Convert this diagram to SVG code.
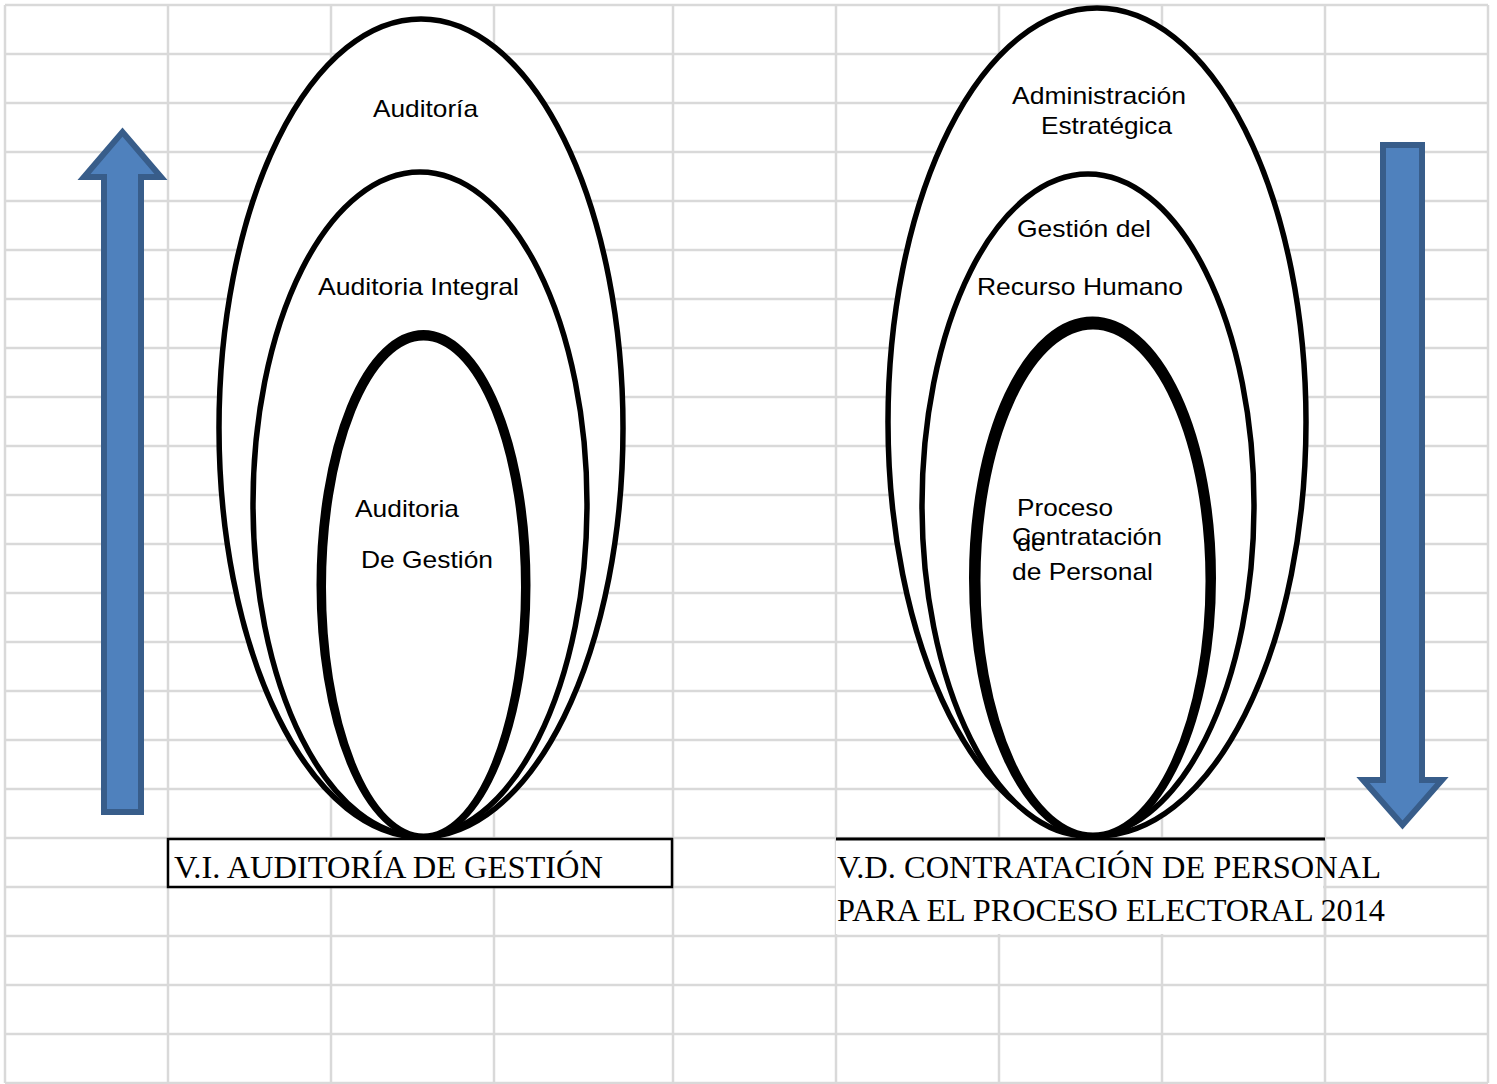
<svg xmlns="http://www.w3.org/2000/svg" width="1497" height="1084" viewBox="0 0 1497 1084">
<style>
.grid line{stroke:#d9d9d9;stroke-width:2.5}
.ell{fill:#fff;stroke:#000;stroke-width:5.5}
.thick{stroke-width:8}
.t{font-family:"Liberation Sans",Arial,sans-serif;font-size:24px;fill:#000}
.s{font-family:"Liberation Serif","Times New Roman",serif;font-size:32px;fill:#000}
.arrow{fill:#4f81bd;stroke:#385d8a;stroke-width:6;stroke-linejoin:miter}
</style>
<rect width="1497" height="1084" fill="#fff"/>
<g class="grid" id="grid">
<line x1="5" y1="5" x2="1488" y2="5"/>
<line x1="5" y1="54" x2="1488" y2="54"/>
<line x1="5" y1="103" x2="1488" y2="103"/>
<line x1="5" y1="152" x2="1488" y2="152"/>
<line x1="5" y1="201" x2="1488" y2="201"/>
<line x1="5" y1="250" x2="1488" y2="250"/>
<line x1="5" y1="299" x2="1488" y2="299"/>
<line x1="5" y1="348" x2="1488" y2="348"/>
<line x1="5" y1="397" x2="1488" y2="397"/>
<line x1="5" y1="446" x2="1488" y2="446"/>
<line x1="5" y1="495" x2="1488" y2="495"/>
<line x1="5" y1="544" x2="1488" y2="544"/>
<line x1="5" y1="593" x2="1488" y2="593"/>
<line x1="5" y1="642" x2="1488" y2="642"/>
<line x1="5" y1="691" x2="1488" y2="691"/>
<line x1="5" y1="740" x2="1488" y2="740"/>
<line x1="5" y1="789" x2="1488" y2="789"/>
<line x1="5" y1="838" x2="1488" y2="838"/>
<line x1="5" y1="887" x2="1488" y2="887"/>
<line x1="5" y1="936" x2="1488" y2="936"/>
<line x1="5" y1="985" x2="1488" y2="985"/>
<line x1="5" y1="1034" x2="1488" y2="1034"/>
<line x1="5" y1="1083" x2="1488" y2="1083"/>
<line x1="5" y1="5" x2="5" y2="1083"/>
<line x1="168" y1="5" x2="168" y2="1083"/>
<line x1="331" y1="5" x2="331" y2="1083"/>
<line x1="494" y1="5" x2="494" y2="1083"/>
<line x1="673" y1="5" x2="673" y2="1083"/>
<line x1="836" y1="5" x2="836" y2="1083"/>
<line x1="999" y1="5" x2="999" y2="1083"/>
<line x1="1162" y1="5" x2="1162" y2="1083"/>
<line x1="1325" y1="5" x2="1325" y2="1083"/>
<line x1="1488" y1="5" x2="1488" y2="1083"/>
</g>

<g id="left-outer">
<ellipse class="ell" cx="421" cy="428" rx="202" ry="409"/>
<text class="t" x="373" y="117" textLength="105" lengthAdjust="spacingAndGlyphs">Auditoría</text>
</g>
<g id="left-middle">
<ellipse class="ell" cx="420" cy="504" rx="167" ry="332"/>
<text class="t" x="318" y="295" textLength="201" lengthAdjust="spacingAndGlyphs">Auditoria Integral</text>
</g>
<g id="left-inner">
<ellipse class="ell thick" cx="423.5" cy="585" rx="103" ry="251"/>
<ellipse class="ell" cx="423.5" cy="587" rx="100" ry="249" style="stroke-width:5"/>
<text class="t" x="355" y="517" textLength="104" lengthAdjust="spacingAndGlyphs">Auditoria</text>
<text class="t" x="361" y="568" textLength="132" lengthAdjust="spacingAndGlyphs">De Gestión</text>
</g>

<g id="right-outer">
<ellipse class="ell" cx="1097" cy="422" rx="209" ry="414"/>
<text class="t" x="1012" y="104" textLength="174" lengthAdjust="spacingAndGlyphs">Administración</text>
<text class="t" x="1041" y="134" textLength="131" lengthAdjust="spacingAndGlyphs">Estratégica</text>
</g>
<g id="right-middle">
<ellipse class="ell" cx="1088" cy="505" rx="166" ry="331"/>
<text class="t" x="1017" y="237" textLength="134" lengthAdjust="spacingAndGlyphs">Gestión del</text>
<text class="t" x="977" y="295" textLength="206" lengthAdjust="spacingAndGlyphs">Recurso Humano</text>
</g>
<g id="right-inner">
<ellipse class="ell" cx="1092.5" cy="578" rx="120" ry="258" style="stroke-width:7"/>
<ellipse class="ell" cx="1093" cy="581" rx="116" ry="255" style="stroke-width:7"/>
<text class="t" x="1017" y="516" textLength="96" lengthAdjust="spacingAndGlyphs">Proceso</text>
<text class="t" x="1017" y="551" textLength="28" lengthAdjust="spacingAndGlyphs">de</text>
<text class="t" x="1012" y="545" textLength="150" lengthAdjust="spacingAndGlyphs">Contratación</text>
<text class="t" x="1012" y="580" textLength="141" lengthAdjust="spacingAndGlyphs">de Personal</text>
</g>

<g id="arrow-up">
<path class="arrow" d="M104,812 L104,177 L84,177 L122.5,132 L161,177 L141,177 L141,812 Z"/>
</g>
<g id="arrow-down">
<path class="arrow" d="M1383,145 L1383,780 L1363,780 L1402.5,825 L1442,780 L1422,780 L1422,145 Z"/>
</g>

<g id="label-vi">
<rect x="168" y="839" width="504" height="48" fill="#fff" stroke="#000" stroke-width="2.5"/>
<text class="s" x="174" y="878" textLength="429" lengthAdjust="spacingAndGlyphs">V.I. AUDITORÍA DE GESTIÓN</text>
</g>
<g id="label-vd">
<rect x="836" y="839" width="487" height="95" fill="#fff"/>
<line x1="836" y1="839" x2="1325" y2="839" stroke="#000" stroke-width="3"/>
<line x1="1325" y1="841" x2="1325" y2="936" stroke="#d9d9d9" stroke-width="2.5"/>
<text class="s" x="837" y="878" textLength="544" lengthAdjust="spacingAndGlyphs">V.D. CONTRATACIÓN DE PERSONAL</text>
<text class="s" x="837" y="921" textLength="548" lengthAdjust="spacingAndGlyphs">PARA EL PROCESO ELECTORAL 2014</text>
</g>
</svg>
